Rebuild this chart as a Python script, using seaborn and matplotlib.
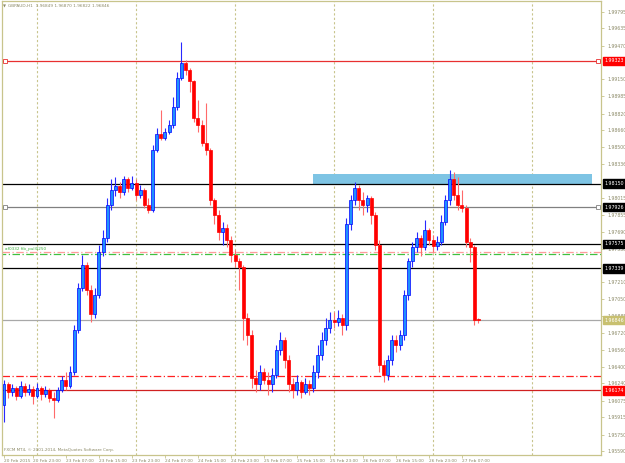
import numpy as np
import pandas as pd
import seaborn as sns
import matplotlib.pyplot as plt
import matplotlib.transforms as mtransforms
from matplotlib.patches import Rectangle

# GBPAUD H1 bars, 20 Feb 16:00 .. 27 Feb 11:00
first_open = 1.9603
closes = [
    1.9623, 1.9616, 1.9620, 1.9612, 1.9622, 1.9616, 1.9619, 1.9612, 1.9620, 1.9614,
    1.9618, 1.9610, 1.9608, 1.9618, 1.9627, 1.9622, 1.9635, 1.9675, 1.9715, 1.9737,
    1.9713, 1.9690, 1.9709, 1.9750, 1.9763, 1.9795, 1.9809, 1.9813, 1.9807, 1.9819,
    1.9811, 1.9816, 1.9804, 1.9809, 1.9795, 1.9790, 1.9847, 1.9862, 1.9859, 1.9864,
    1.9871, 1.9888, 1.9916, 1.9930, 1.9924, 1.9913, 1.9878, 1.9871, 1.9854, 1.9847,
    1.9799, 1.9785, 1.9769, 1.9773, 1.9761, 1.9747, 1.9741, 1.9735, 1.9687, 1.9670,
    1.9629, 1.9623, 1.9635, 1.9627, 1.9623, 1.9632, 1.9656, 1.9666, 1.9646, 1.9623,
    1.9618, 1.9625, 1.9616, 1.9623, 1.9620, 1.9635, 1.9651, 1.9666, 1.9677, 1.9685,
    1.9683, 1.9687, 1.9680, 1.9776, 1.9799, 1.9811, 1.9799, 1.9795, 1.9801, 1.9785,
    1.9756, 1.9642, 1.9632, 1.9646, 1.9666, 1.9661, 1.9670, 1.9709, 1.9741, 1.9754,
    1.9763, 1.9754, 1.9771, 1.9761, 1.9755, 1.9759, 1.9778, 1.9799, 1.9819, 1.9804,
    1.9795, 1.9792, 1.9759, 1.9754, 1.96849, 1.96846,
]
highs = [
    1.9627, 1.9625, 1.9623, 1.9622, 1.9626, 1.9624, 1.9623, 1.9622, 1.9624, 1.9622,
    1.9622, 1.9620, 1.9616, 1.9621, 1.9631, 1.9635, 1.9641, 1.9680, 1.9720, 1.9747,
    1.9740, 1.9718, 1.9715, 1.9756, 1.9771, 1.9801, 1.9819, 1.9821, 1.9817, 1.9822,
    1.9821, 1.9822, 1.9819, 1.9814, 1.9811, 1.9801, 1.9852, 1.9868, 1.9885, 1.9868,
    1.9876, 1.9898, 1.9922, 1.9950, 1.9933, 1.9926, 1.9914, 1.9895, 1.9876, 1.9892,
    1.9849, 1.9801, 1.9790, 1.9778, 1.9776, 1.9765, 1.9752, 1.9744, 1.9737, 1.9691,
    1.9675, 1.9637, 1.9642, 1.9639, 1.9635, 1.9639, 1.9661, 1.9673, 1.9668, 1.9651,
    1.9629, 1.9632, 1.9627, 1.9629, 1.9627, 1.9642, 1.9661, 1.9673, 1.9687, 1.9692,
    1.9692, 1.9694, 1.9690, 1.9782, 1.9804, 1.9817, 1.9814, 1.9807, 1.9804, 1.9803,
    1.9788, 1.9761, 1.9646, 1.9651, 1.9670, 1.9670, 1.9675, 1.9713, 1.9744, 1.9759,
    1.9769, 1.9766, 1.9780, 1.9773, 1.9766, 1.9765, 1.9785, 1.9804, 1.9828, 1.9826,
    1.9821, 1.9809, 1.9795, 1.9763, 1.9756, 1.96870,
]
lows = [
    1.9587, 1.9610, 1.9612, 1.9608, 1.9610, 1.9612, 1.9613, 1.9604, 1.9610, 1.9608,
    1.9611, 1.9606, 1.9591, 1.9606, 1.9616, 1.9618, 1.9620, 1.9632, 1.9672, 1.9712,
    1.9709, 1.9683, 1.9687, 1.9706, 1.9746, 1.9759, 1.9790, 1.9803, 1.9801, 1.9804,
    1.9807, 1.9809, 1.9799, 1.9801, 1.9792, 1.9787, 1.9788, 1.9845, 1.9857, 1.9857,
    1.9862, 1.9868, 1.9885, 1.9914, 1.9919, 1.9903, 1.9874, 1.9864, 1.9851, 1.9842,
    1.9795, 1.9776, 1.9761, 1.9756, 1.9754, 1.9740, 1.9735, 1.9713, 1.9666, 1.9661,
    1.9620, 1.9616, 1.9618, 1.9623, 1.9613, 1.9616, 1.9629, 1.9651, 1.9639, 1.9616,
    1.9610, 1.9613, 1.9610, 1.9614, 1.9613, 1.9616, 1.9629, 1.9646, 1.9661, 1.9672,
    1.9677, 1.9679, 1.9670, 1.9675, 1.9771, 1.9795, 1.9790, 1.9785, 1.9788, 1.9776,
    1.9752, 1.9635, 1.9625, 1.9627, 1.9642, 1.9654, 1.9656, 1.9666, 1.9704, 1.9735,
    1.9750, 1.9746, 1.9752, 1.9756, 1.9750, 1.9752, 1.9756, 1.9775, 1.9795, 1.9799,
    1.9790, 1.9788, 1.9754, 1.9740, 1.9680, 1.96822,
]

date_bars = [0, 7, 15, 23, 31, 39, 47, 55, 63, 71, 79, 87, 95, 103, 111]
date_labels = ["20 Feb 2015", "20 Feb 23:00", "23 Feb 07:00", "23 Feb 15:00",
               "23 Feb 23:00", "24 Feb 07:00", "24 Feb 15:00", "24 Feb 23:00",
               "25 Feb 07:00", "25 Feb 15:00", "25 Feb 23:00", "26 Feb 07:00",
               "26 Feb 15:00", "26 Feb 23:00", "27 Feb 07:00"]
day_starts = [8, 32, 56, 80, 104, 128]

# right-axis scale labels (the ones hidden under price boxes are left out)
price_ticks = [1.99795, 1.99635, 1.99470, 1.99150, 1.98985, 1.98820,
               1.98660, 1.98500, 1.98336, 1.98015, 1.97855, 1.97690,
               1.97530, 1.97210, 1.97050, 1.96885, 1.96720, 1.96560,
               1.96400, 1.96240, 1.96075, 1.95915, 1.95750, 1.95590]

# labelled horizontal levels: price, line colour, label background
level_prices = [1.99323, 1.98150, 1.97926, 1.97575, 1.97339, 1.96846, 1.96174]
level_colors = ["#e83030", "#000000", "#808080", "#000000", "#000000", "#a8a8a8", "#d02020"]
level_boxes = ["#ff0000", "#000000", "#000000", "#000000", "#000000", "#c8c070", "#ff0000"]

zone_bars = [74.9, 142.5]
zone_prices = [1.98137, 1.98243]

khaki = "#c8c48c"
textc = "#8c8a68"

sns.set_theme(style="white")
plt.rcParams["font.family"] = ["DejaVu Sans"]

df = pd.DataFrame({"bar": np.arange(len(closes)), "close": closes, "high": highs, "low": lows})
df["open"] = [first_open] + closes[:-1]
df.loc[len(df) - 1, "open"] = 1.96849
df["up"] = df["close"] >= df["open"]

fig = plt.figure(figsize=(6.25, 4.63), dpi=100)
ax = fig.add_axes([2 / 625, 8 / 463, 599 / 625, 454 / 463])
ax.set_facecolor("white")

ax.set_xlim(-0.485, 144.7)
ax.set_ylim(1.95556, 1.99896)

# day separators
for d in day_starts:
    ax.axvline(d, color=khaki, lw=0.8, ls=(0, (2, 2)), zorder=1)

# zone rectangle
ax.add_patch(Rectangle((zone_bars[0], zone_prices[0]), zone_bars[1] - zone_bars[0],
                       zone_prices[1] - zone_prices[0], facecolor="#7ec4e4",
                       edgecolor="none", zorder=1.5))

# candles
wick_cols = np.where(df["up"], "#2828ff", "#ff6a6a")
ax.vlines(df["bar"], df["low"], df["high"], colors=wick_cols, lw=0.8, zorder=3)
body = df["close"] - df["open"]
body = body.where(body.abs() > 0.00003, 0.00003)
ax.bar(df["bar"], body, bottom=df["open"], width=0.72,
       color=np.where(df["up"], "#1e90ff", "#ff0000"),
       edgecolor=np.where(df["up"], "#0000ff", "#ff0000"), lw=0.5, zorder=4)

# horizontal levels
for p, c in zip(level_prices, level_colors):
    ax.axhline(p, color=c, lw=0.9, zorder=2)
for p in [level_prices[0], level_prices[2]]:
    ax.plot([0.3, 144.0], [p, p], ls="none", marker="s", ms=2.2, mfc="white",
            mec=level_colors[level_prices.index(p)], mew=0.6, zorder=5)

ax.axhline(1.96311, color="#ff2020", lw=0.9, ls=(0, (6, 2, 1, 2)), zorder=2)
ax.axhline(1.97497, color="#ff9a9a", lw=0.9, ls=(0, (6, 2, 1, 2)), zorder=2)
ax.axhline(1.97480, color="#40c040", lw=0.9, ls=(3, (6, 2, 1, 2)), zorder=2)
ytrans = mtransforms.blended_transform_factory(ax.transAxes, ax.transData)
ax.text(0.005, 1.97530, "af0332 fib_pull0250", color="#40b040", fontsize=3.0,
        transform=ytrans, va="center", ha="left")

# axes styling
for s in ax.spines.values():
    s.set_color(khaki)
    s.set_linewidth(0.9)
ax.yaxis.tick_right()
ax.set_yticks(price_ticks)
ax.set_yticklabels([f"{v:.5f}" for v in price_ticks])
ax.tick_params(axis="y", right=True, left=False, labelright=True, labelleft=False,
               length=2.5, width=0.6, color=khaki, labelsize=3.3, labelcolor=textc, pad=2)
ax.set_xticks(date_bars)
ax.set_xticklabels(date_labels, ha="left")
ax.tick_params(axis="x", bottom=True, length=2.5, width=0.6, color=khaki,
               labelsize=3.1, labelcolor=textc, pad=0.5)
ax.set_xlabel("")
ax.set_ylabel("")

# price labels on the right axis
for p, bc in zip(level_prices, level_boxes):
    ax.text(1.006, p, f"{p:.5f}", transform=ytrans, ha="left", va="center",
            fontsize=3.4, color="white", clip_on=False, zorder=6,
            bbox=dict(boxstyle="square,pad=0.35", fc=bc, ec=bc))

ax.text(0.002, 0.992, "\u25bc", transform=ax.transAxes, fontsize=2.8,
        color="#8c8a68", va="top", ha="left")
ax.text(0.010, 0.993, "GBPAUD,H1  1.96849 1.96870 1.96822 1.96846", transform=ax.transAxes,
        fontsize=3.1, color=textc, va="top", ha="left")
ax.text(0.003, 0.011, "FXCM MT4, \u00a9 2001-2014, MetaQuotes Software Corp.",
        transform=ax.transAxes, fontsize=3.0, color=textc, va="center", ha="left")

fig.savefig("out.png", dpi=100)
